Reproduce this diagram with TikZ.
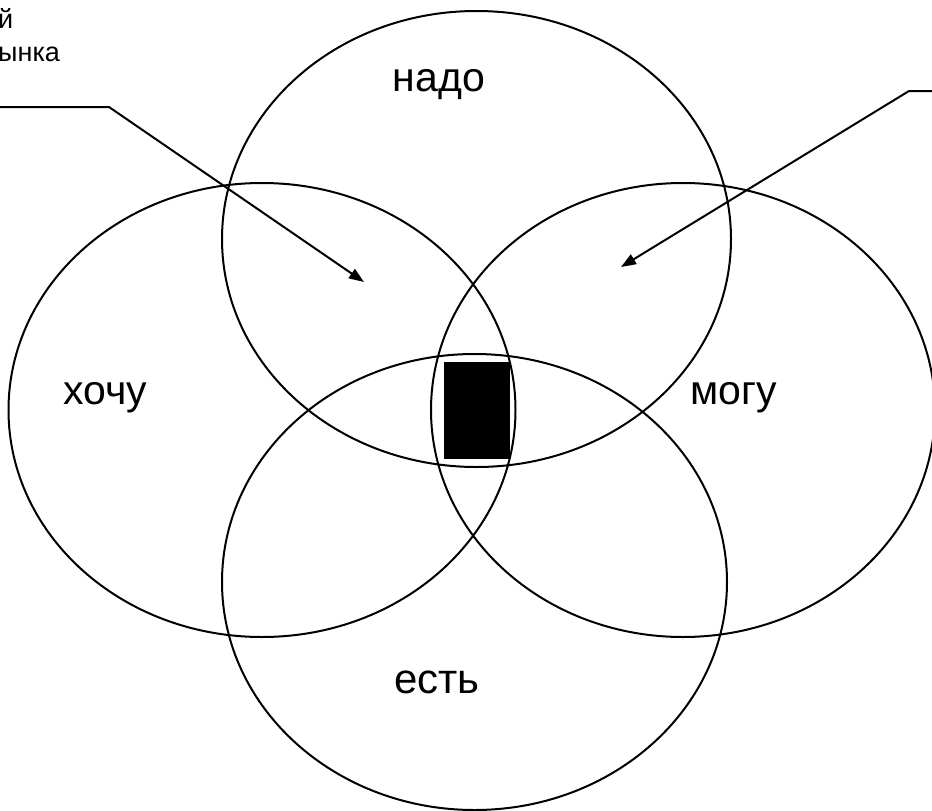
\documentclass[tikz,border=0pt]{standalone}
\usepackage{fontspec}
\setmainfont{Liberation Sans}
\usetikzlibrary{arrows.meta}
\begin{document}
\begin{tikzpicture}[x=1pt,y=-1pt,
  circ/.style={draw=black,line width=2pt},
  lbl/.style={font=\fontsize{41}{49}\selectfont,inner sep=0pt,anchor=base},
  small/.style={font=\fontsize{27}{32}\selectfont,inner sep=0pt,anchor=base west},
  pointer/.style={draw=black,line width=2pt,-{Triangle[length=15pt,width=11pt]}}]
\useasboundingbox (0,0) rectangle (932,811);
\fill[white] (0,0) rectangle (932,811);
% circles
\draw[circ] (476.5,239) ellipse [x radius=254.5,y radius=228];
\draw[circ] (262,410) ellipse [x radius=253.5,y radius=227];
\draw[circ] (683,410) ellipse [x radius=252,y radius=227];
\draw[circ] (474.5,582) ellipse [x radius=252.5,y radius=228];
% black rectangle
\node[fill=black,minimum width=66pt,minimum height=97pt,inner sep=0pt,anchor=north west] (core) at (444,362) {};
% labels
\node[lbl] (nado) at (439,91) {надо};
\node[lbl] (hochu) at (105,404) {хочу};
\node[lbl] (mogu) at (734,404) {могу};
\node[lbl,font=\fontsize{42}{50}\selectfont] (est) at (437,693) {есть};
% top-left clipped text
\node[small] (t1) at (-2,28) {й};
\node[small] (t2) at (-2,61) {ынка};
% pointers
\coordinate (la) at (0,107);
\coordinate (lb) at (109,107);
\coordinate (lt) at (364,282);
\coordinate (ra) at (932,91);
\coordinate (rb) at (909,91);
\coordinate (rt) at (621,267);
\draw[pointer] (la) -- (lb) -- (lt);
\draw[pointer] (ra) -- (rb) -- (rt);
\end{tikzpicture}
\end{document}
